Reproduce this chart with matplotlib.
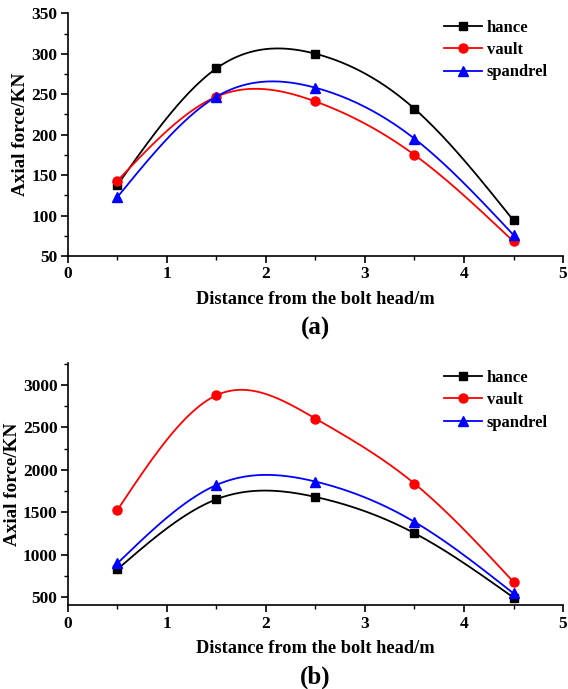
import numpy
import matplotlib
matplotlib.use("Agg")
from matplotlib import pyplot
from matplotlib.ticker import MultipleLocator

# -----------------------------------------------------------------------------
# data
distance = [0.5, 1.5, 2.5, 3.5, 4.5]

hance_a = [138, 282, 300, 232, 94]
vault_a = [143, 247, 241, 175, 68]
spandrel_a = [123, 247, 258, 195, 76]

hance_b = [830, 1654, 1681, 1254, 496]
vault_b = [1528, 2879, 2604, 1838, 680]
spandrel_b = [900, 1822, 1862, 1387, 545]

series_names = ["hance", "vault", "spandrel"]

pyplot.rcParams['font.family'] = ['Liberation Serif', 'DejaVu Serif']
pyplot.rcParams['font.weight'] = 'bold'


# -----------------------------------------------------------------------------
# natural cubic spline, used only to draw a smooth line through the points
def spline(x, y, n=200):
    x = numpy.asarray(x, float)
    y = numpy.asarray(y, float)
    m = len(x)
    h = numpy.diff(x)
    A = numpy.zeros((m, m))
    b = numpy.zeros(m)
    A[0, 0] = 1.0
    A[-1, -1] = 1.0
    for i in range(1, m - 1):
        A[i, i - 1] = h[i - 1]
        A[i, i] = 2 * (h[i - 1] + h[i])
        A[i, i + 1] = h[i]
        b[i] = 6 * ((y[i + 1] - y[i]) / h[i] - (y[i] - y[i - 1]) / h[i - 1])
    M = numpy.linalg.solve(A, b)
    xs = numpy.linspace(x[0], x[-1], n)
    k = numpy.clip(numpy.searchsorted(x, xs) - 1, 0, m - 2)
    t0 = x[k + 1] - xs
    t1 = xs - x[k]
    hk = h[k]
    ys = (M[k] * t0**3 + M[k + 1] * t1**3) / (6 * hk) \
        + (y[k] / hk - M[k] * hk / 6) * t0 \
        + (y[k + 1] / hk - M[k + 1] * hk / 6) * t1
    return xs, ys


def draw(ax, data, ylim, ymajor, yminor, tag):
    styles = [('k', 's', 5.5), ('r', 'o', 6.5), ('b', '^', 7)]
    for name, vals, (c, mk, ms) in zip(series_names, data, styles):
        xs, ys = spline(distance, vals)
        ax.plot(xs, ys, color=c, linewidth=1.3)
        ax.plot(distance, vals, linestyle='none', marker=mk, color=c, markersize=ms)
        ax.plot([], [], color=c, marker=mk, markersize=ms, linewidth=1.3, label=name)

    ax.set_xlim(0, 5)
    ax.set_ylim(*ylim)
    ax.xaxis.set_major_locator(MultipleLocator(1))
    ax.xaxis.set_minor_locator(MultipleLocator(0.5))
    ax.yaxis.set_major_locator(MultipleLocator(ymajor))
    ax.yaxis.set_minor_locator(MultipleLocator(yminor))

    ax.spines['top'].set_visible(False)
    ax.spines['right'].set_visible(False)
    for s in ('left', 'bottom'):
        ax.spines[s].set_linewidth(1.2)
    ax.tick_params(which='major', direction='out', length=5, width=1.2, labelsize=12.5, pad=2.5)
    ax.tick_params(which='minor', direction='out', length=3, width=1.0)

    ax.set_xlabel('Distance from the bolt head/m', fontsize=13.2, fontweight='bold', labelpad=6)
    ax.set_ylabel('Axial force/KN', fontsize=13.8, fontweight='bold', labelpad=1.5)
    ax.legend(loc='upper right', frameon=False, fontsize=12, handlelength=2.3,
              handletextpad=0.3, labelspacing=0.38, bbox_to_anchor=(1.0, 1.035))
    ax.text(0.5, -0.25, tag, transform=ax.transAxes, ha='center', va='top',
            fontsize=18, fontweight='bold')


fig = pyplot.figure(figsize=(5.68, 6.89), dpi=100)
ax1 = fig.add_axes([0.1197, 0.6284, 0.8715, 0.3523])
ax2 = fig.add_axes([0.1197, 0.1215, 0.8715, 0.3512])

draw(ax1, [hance_a, vault_a, spandrel_a], (50, 350), 50, 25, '(a)')
draw(ax2, [hance_b, vault_b, spandrel_b], (405, 3255), 500, 250, '(b)')

fig.savefig('out.png', dpi=100)
